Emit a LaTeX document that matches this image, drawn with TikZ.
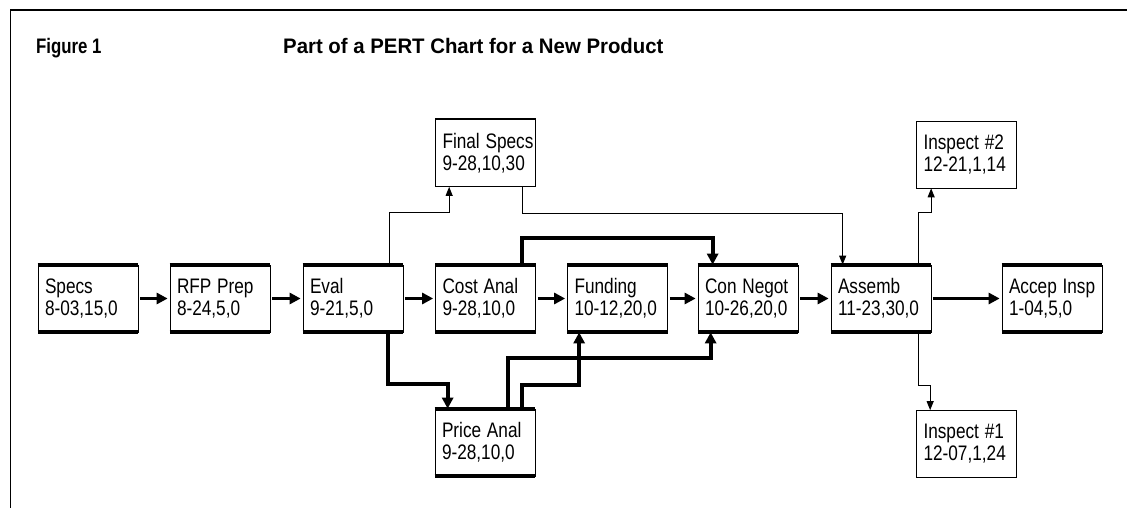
\documentclass[tikz,border=0pt]{standalone}
\usepackage{graphicx}
\usepackage{fontspec}
\setmainfont{Liberation Sans}
\usetikzlibrary{arrows.meta}
\newcommand{\twoline}[2]{\scalebox{0.82}[1]{#1}\\\scalebox{0.82}[1]{#2}}
\begin{document}
\begin{tikzpicture}[x=1pt,y=-1pt,
  box/.style={draw,line width=0.7pt,minimum width=100pt,minimum height=67pt,
    inner xsep=7pt,inner ysep=0pt,text width=86pt,align=left,
    font=\fontsize{21}{22}\selectfont},
  bar/.style={line width=4pt},
  heavy/.style={line width=3.8pt,-{Triangle[length=11pt,width=11pt]}},
  light/.style={line width=1pt,-{Triangle[length=9pt,width=7pt]}},
  ttl/.style={anchor=base west,inner sep=0pt,font=\fontsize{21}{22}\selectfont\bfseries}
]
\useasboundingbox (0,0) rectangle (1127,508);
% frame
\draw[line width=2pt] (10,10) -- (1127,10);
\draw[line width=1pt] (10,10) -- (10,508);
% titles
\node[ttl] (fig) at (36,54) {\scalebox{0.8}[1]{Figure 1}};
\node[ttl] (title) at (283,54) {\scalebox{0.97}[1]{Part of a PERT Chart for a New Product}};
% main row
\node[box] (specs)   at (88,298.5)    {\twoline{Specs}{8-03,15,0}};
\node[box] (rfp)     at (220,298.5)   {\twoline{RFP Prep}{8-24,5,0}};
\node[box] (eval)    at (353,298.5)   {\twoline{Eval}{9-21,5,0}};
\node[box] (cost)    at (485.5,298.5) {\twoline{Cost Anal}{9-28,10,0}};
\node[box] (funding) at (617.5,298.5) {\twoline{Funding}{10-12,20,0}};
\node[box] (conneg)  at (748,298.5)   {\twoline{Con Negot}{10-26,20,0}};
\node[box] (assemb)  at (881,298.5)   {\twoline{Assemb}{11-23,30,0}};
\node[box] (accep)   at (1052,298.5)  {\twoline{Accep Insp}{1-04,5,0}};
% side boxes
\node[box] (fspecs)  at (485.5,153)   {\twoline{Final Specs}{9-28,10,30}};
\node[box] (price)   at (485,442.5)   {\twoline{Price Anal}{9-28,10,0}};
\node[box] (insp2)   at (966.5,154.5) {\twoline{Inspect \#2}{12-21,1,14}};
\node[box] (insp1)   at (966.5,444)   {\twoline{Inspect \#1}{12-07,1,24}};
\draw[line width=1.5pt] (fspecs.north west) -- (fspecs.north east);
% thick bars on critical boxes
\foreach \n in {specs,rfp,eval,cost,funding,conneg,assemb,accep,price}{
  \draw[bar] (\n.north west) -- (\n.north east);
  \draw[bar] (\n.south west) -- (\n.south east);
}
% horizontal thick arrows
\draw[heavy] ([xshift=2pt]specs.east) -- ([xshift=-2pt]rfp.west);
\draw[heavy] ([xshift=2pt]rfp.east) -- ([xshift=-2pt]eval.west);
\draw[heavy] ([xshift=2pt]eval.east) -- ([xshift=-2pt]cost.west);
\draw[heavy] ([xshift=2pt]cost.east) -- ([xshift=-2pt]funding.west);
\draw[heavy] ([xshift=2pt]funding.east) -- ([xshift=-2pt]conneg.west);
\draw[heavy] ([xshift=2pt]conneg.east) -- ([xshift=-2pt]assemb.west);
\draw[heavy] ([xshift=2pt]assemb.east) -- ([xshift=-2pt]accep.west);
% elbow thick arrows
\draw[heavy] ([xshift=-14pt]cost.north east) -- ++(0,-27) -| ([xshift=15pt]conneg.north west);
\draw[heavy] ([xshift=-15pt]eval.south east) -- ++(0,52) -| ([xshift=13pt]price.north west);
\draw[heavy] ([xshift=-13pt]price.north east) -- ++(0,-24) -| ([xshift=12pt]funding.south west);
\draw[heavy] ([xshift=-27pt]price.north east) -- ++(0,-51) -| ([xshift=13pt]conneg.south west);
% thin arrows
\draw[light] ([xshift=-14pt]eval.north east) -- ++(0,-52) -| ([xshift=14pt]fspecs.south west);
\draw[light] ([xshift=-13pt]fspecs.south east) -- ++(0,27) -| ([xshift=12pt]assemb.north west);
\draw[light] ([xshift=-13pt]assemb.north east) -- ++(0,-52) -| ([xshift=15pt]insp2.south west);
\draw[light] ([xshift=-13pt]assemb.south east) -- ++(0,53) -| ([xshift=14pt]insp1.north west);
\end{tikzpicture}
\end{document}
